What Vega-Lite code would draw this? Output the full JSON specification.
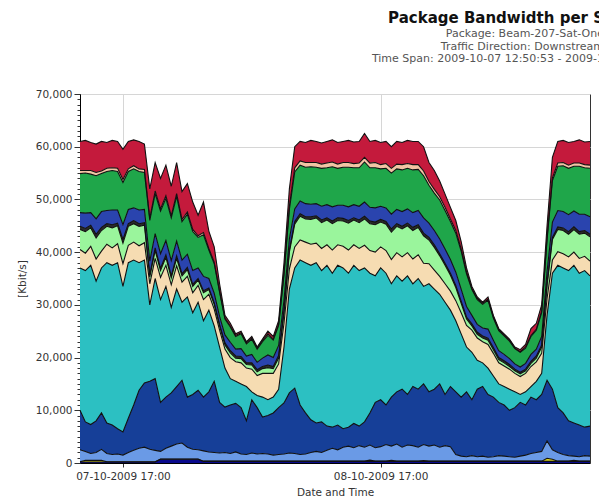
{
"$schema": "https://vega.github.io/schema/vega-lite/v6.json",
"width": 510, "height": 369,
"autosize": {"type": "none"},
"padding": {"left": 80, "top": 94, "right": 9, "bottom": 34},
"background": "white",
"config": {"view": {"stroke": "#333", "strokeWidth": 1}, "font": "DejaVu Sans"},
"title": {"text": "Package Bandwidth per S", "subtitle": ["Package: Beam-207-Sat-One", "Traffic Direction: Downstream", "Time Span: 2009-10-07 12:50:53 - 2009-1"], "anchor": "end", "frame": "group", "dx": 14, "offset": 25, "font": "DejaVu Sans", "fontSize": 15, "fontWeight": "bold", "color": "#111", "subtitleFont": "DejaVu Sans", "subtitleFontSize": 11, "subtitleColor": "#555", "subtitleLineHeight": 12.5, "subtitlePadding": 2},
"data": {"values": [
{"t":"2009-10-07T13:00","a":5500,"b":600,"c":7400,"d":2600,"e":600,"f":3800,"g":3500,"h":27000,"i":7500,"j":2250,"k":50,"l":200},
{"t":"2009-10-07T13:30","a":5700,"b":500,"c":7600,"d":2900,"e":600,"f":4100,"g":3300,"h":28700,"i":5600,"j":1700,"k":300,"l":200},
{"t":"2009-10-07T14:00","a":5300,"b":700,"c":7300,"d":2400,"e":500,"f":3500,"g":3600,"h":30200,"i":5500,"j":1300,"k":300,"l":200},
{"t":"2009-10-07T14:30","a":5400,"b":600,"c":8200,"d":2900,"e":700,"f":4000,"g":4200,"h":26500,"i":6000,"j":1500,"k":300,"l":200},
{"t":"2009-10-07T15:00","a":5600,"b":500,"c":7200,"d":3000,"e":600,"f":3900,"g":3200,"h":27500,"i":6900,"j":2100,"k":300,"l":200},
{"t":"2009-10-07T15:30","a":4900,"b":600,"c":7400,"d":2500,"e":500,"f":3400,"g":3500,"h":30400,"i":5800,"j":1550,"k":50,"l":200},
{"t":"2009-10-07T16:00","a":5200,"b":500,"c":7500,"d":2800,"e":600,"f":3800,"g":3300,"h":30300,"i":5600,"j":1350,"k":50,"l":200},
{"t":"2009-10-07T16:30","a":5100,"b":600,"c":7300,"d":2500,"e":500,"f":3400,"g":3600,"h":31500,"i":4800,"j":1450,"k":50,"l":200},
{"t":"2009-10-07T17:00","a":5700,"b":600,"c":8000,"d":2800,"e":700,"f":3900,"g":4300,"h":27600,"i":4400,"j":1250,"k":50,"l":200},
{"t":"2009-10-07T17:30","a":5200,"b":500,"c":7200,"d":2700,"e":500,"f":3600,"g":3300,"h":29500,"i":6500,"j":1750,"k":50,"l":200},
{"t":"2009-10-07T18:00","a":4900,"b":600,"c":7400,"d":2400,"e":600,"f":3500,"g":3400,"h":27500,"i":8600,"j":2150,"k":50,"l":200},
{"t":"2009-10-07T18:30","a":5200,"b":500,"c":7300,"d":2600,"e":500,"f":3700,"g":3200,"h":24200,"i":11000,"j":2550,"k":50,"l":200},
{"t":"2009-10-07T19:00","a":4800,"b":600,"c":7000,"d":2500,"e":500,"f":3300,"g":3300,"h":23300,"i":12200,"j":2750,"k":50,"l":200},
{"t":"2009-10-07T19:30","a":5600,"b":400,"c":7700,"d":2600,"e":400,"f":1300,"g":4000,"h":14500,"i":12900,"j":2350,"k":50,"l":200},
{"t":"2009-10-07T20:00","a":5400,"b":500,"c":7600,"d":2700,"e":500,"f":1500,"g":3800,"h":19000,"i":13600,"j":2150,"k":50,"l":200},
{"t":"2009-10-07T20:30","a":5800,"b":400,"c":8100,"d":2800,"e":400,"f":1300,"g":4200,"h":19500,"i":9300,"j":1450,"k":50,"l":700},
{"t":"2009-10-07T21:00","a":5800,"b":500,"c":8000,"d":2700,"e":500,"f":1500,"g":4000,"h":21000,"i":9700,"j":2050,"k":50,"l":700},
{"t":"2009-10-07T21:30","a":5600,"b":400,"c":8100,"d":2900,"e":400,"f":1300,"g":4300,"h":16200,"i":10100,"j":2450,"k":50,"l":700},
{"t":"2009-10-07T22:00","a":5900,"b":500,"c":8500,"d":2800,"e":500,"f":1400,"g":4400,"h":18500,"i":10900,"j":2850,"k":50,"l":700},
{"t":"2009-10-07T22:30","a":5300,"b":400,"c":7300,"d":2600,"e":400,"f":1200,"g":3800,"h":14800,"i":11900,"j":3050,"k":50,"l":700},
{"t":"2009-10-07T23:00","a":5400,"b":400,"c":7600,"d":2500,"e":400,"f":1300,"g":3900,"h":19000,"i":9500,"j":2250,"k":50,"l":700},
{"t":"2009-10-07T23:30","a":5200,"b":400,"c":7400,"d":2600,"e":400,"f":1200,"g":3800,"h":15500,"i":10400,"j":1850,"k":50,"l":700},
{"t":"2009-10-08T00:00","a":3900,"b":300,"c":5800,"d":2000,"e":300,"f":1000,"g":3200,"h":16700,"i":11300,"j":1750,"k":50,"l":700},
{"t":"2009-10-08T00:30","a":5800,"b":400,"c":7900,"d":2700,"e":400,"f":1300,"g":4000,"h":14500,"i":10200,"j":1950,"k":50,"l":300},
{"t":"2009-10-08T01:00","a":3300,"b":300,"c":5400,"d":1800,"e":300,"f":900,"g":3000,"h":15500,"i":11400,"j":1750,"k":50,"l":300},
{"t":"2009-10-08T01:30","a":2900,"b":300,"c":5600,"d":1800,"e":300,"f":900,"g":3200,"h":10500,"i":13500,"j":1650,"k":50,"l":300},
{"t":"2009-10-08T02:00","a":1400,"b":200,"c":4600,"d":1500,"e":300,"f":800,"g":3200,"h":10500,"i":9600,"j":1550,"k":50,"l":300},
{"t":"2009-10-08T02:30","a":500,"b":200,"c":3000,"d":1500,"e":400,"f":800,"g":3600,"h":7400,"i":8600,"j":1650,"k":50,"l":300},
{"t":"2009-10-08T03:00","a":500,"b":200,"c":2900,"d":1600,"e":400,"f":900,"g":4000,"h":5000,"i":9200,"j":1450,"k":50,"l":300},
{"t":"2009-10-08T03:30","a":300,"b":200,"c":2400,"d":1300,"e":400,"f":700,"g":3700,"h":4200,"i":9200,"j":1750,"k":50,"l":300},
{"t":"2009-10-08T04:00","a":300,"b":200,"c":2800,"d":1500,"e":400,"f":800,"g":4000,"h":4500,"i":8800,"j":1350,"k":50,"l":300},
{"t":"2009-10-08T04:30","a":200,"b":200,"c":2300,"d":1300,"e":300,"f":700,"g":3500,"h":6500,"i":6400,"j":1250,"k":50,"l":300},
{"t":"2009-10-08T05:00","a":300,"b":200,"c":2900,"d":1600,"e":400,"f":800,"g":4300,"h":1500,"i":10100,"j":1550,"k":50,"l":300},
{"t":"2009-10-08T05:30","a":200,"b":200,"c":2500,"d":1400,"e":400,"f":700,"g":3800,"h":2300,"i":8800,"j":1350,"k":50,"l":300},
{"t":"2009-10-08T06:00","a":300,"b":200,"c":3100,"d":1600,"e":400,"f":900,"g":4500,"h":3800,"i":6900,"j":1450,"k":50,"l":300},
{"t":"2009-10-08T06:30","a":500,"b":300,"c":3700,"d":1900,"e":500,"f":1100,"g":5000,"h":3000,"i":7300,"j":1350,"k":50,"l":300},
{"t":"2009-10-08T07:00","a":500,"b":200,"c":3300,"d":1700,"e":400,"f":900,"g":4500,"h":3000,"i":8000,"j":1150,"k":50,"l":300},
{"t":"2009-10-08T07:30","a":700,"b":200,"c":3800,"d":1900,"e":500,"f":1100,"g":4800,"h":3500,"i":8900,"j":1250,"k":50,"l":300},
{"t":"2009-10-08T08:00","a":1900,"b":400,"c":4800,"d":2000,"e":400,"f":2000,"g":4500,"h":10600,"i":9700,"j":1350,"k":50,"l":300},
{"t":"2009-10-08T08:30","a":3300,"b":600,"c":5600,"d":2100,"e":400,"f":3200,"g":3800,"h":19700,"i":11400,"j":1550,"k":50,"l":300},
{"t":"2009-10-08T09:00","a":4000,"b":800,"c":7000,"d":2400,"e":500,"f":4300,"g":4000,"h":22800,"i":12400,"j":1450,"k":50,"l":300},
{"t":"2009-10-08T09:30","a":3700,"b":800,"c":6800,"d":2400,"e":500,"f":4500,"g":3800,"h":27500,"i":9400,"j":1250,"k":50,"l":300},
{"t":"2009-10-08T10:00","a":3800,"b":900,"c":6900,"d":2500,"e":400,"f":4400,"g":3900,"h":28500,"i":7800,"j":1350,"k":50,"l":300},
{"t":"2009-10-08T10:30","a":4200,"b":800,"c":7100,"d":2400,"e":500,"f":4700,"g":4000,"h":29300,"i":6200,"j":1650,"k":50,"l":300},
{"t":"2009-10-08T11:00","a":4000,"b":900,"c":6900,"d":2300,"e":400,"f":4800,"g":3700,"h":30400,"i":5400,"j":1850,"k":50,"l":300},
{"t":"2009-10-08T11:30","a":4000,"b":800,"c":7200,"d":2600,"e":500,"f":4900,"g":4200,"h":28700,"i":5800,"j":1650,"k":50,"l":300},
{"t":"2009-10-08T12:00","a":4100,"b":900,"c":7000,"d":2500,"e":400,"f":4700,"g":3900,"h":30500,"i":4600,"j":2050,"k":50,"l":300},
{"t":"2009-10-08T12:30","a":4200,"b":900,"c":7600,"d":2700,"e":500,"f":5000,"g":4400,"h":29200,"i":4000,"j":2450,"k":50,"l":300},
{"t":"2009-10-08T13:00","a":4100,"b":800,"c":7000,"d":2400,"e":500,"f":4600,"g":3900,"h":30300,"i":4700,"j":2150,"k":50,"l":300},
{"t":"2009-10-08T13:30","a":4000,"b":900,"c":7200,"d":2500,"e":500,"f":4800,"g":4100,"h":30500,"i":3500,"j":2650,"k":50,"l":300},
{"t":"2009-10-08T14:00","a":4200,"b":900,"c":7500,"d":2600,"e":500,"f":5100,"g":4400,"h":29200,"i":3600,"j":2850,"k":50,"l":300},
{"t":"2009-10-08T14:30","a":4100,"b":800,"c":7000,"d":2500,"e":400,"f":4700,"g":3900,"h":30000,"i":4600,"j":2550,"k":50,"l":300},
{"t":"2009-10-08T15:00","a":4100,"b":900,"c":7300,"d":2600,"e":500,"f":4900,"g":4200,"h":29500,"i":3700,"j":2950,"k":50,"l":300},
{"t":"2009-10-08T15:30","a":4500,"b":900,"c":7600,"d":2700,"e":500,"f":5000,"g":4300,"h":29200,"i":4800,"j":2650,"k":50,"l":300},
{"t":"2009-10-08T16:00","a":4100,"b":900,"c":7500,"d":2600,"e":500,"f":5100,"g":4300,"h":26500,"i":6100,"j":2850,"k":250,"l":300},
{"t":"2009-10-08T16:30","a":4200,"b":1000,"c":7600,"d":2700,"e":500,"f":5200,"g":4500,"h":24000,"i":8600,"j":2550,"k":50,"l":300},
{"t":"2009-10-08T17:00","a":4200,"b":800,"c":7100,"d":2500,"e":500,"f":4700,"g":4000,"h":25000,"i":8900,"j":2750,"k":50,"l":300},
{"t":"2009-10-08T17:30","a":4200,"b":900,"c":7500,"d":2600,"e":500,"f":5000,"g":4300,"h":25000,"i":7500,"j":3150,"k":50,"l":300},
{"t":"2009-10-08T18:00","a":4100,"b":900,"c":7800,"d":2800,"e":600,"f":5200,"g":4600,"h":21500,"i":9300,"j":2700,"k":200,"l":300},
{"t":"2009-10-08T18:30","a":4300,"b":900,"c":7700,"d":2700,"e":500,"f":5000,"g":4400,"h":22000,"i":9900,"j":3250,"k":50,"l":300},
{"t":"2009-10-08T19:00","a":4200,"b":1000,"c":7900,"d":2800,"e":500,"f":5300,"g":4600,"h":20500,"i":11000,"j":2650,"k":50,"l":300},
{"t":"2009-10-08T19:30","a":4400,"b":900,"c":7700,"d":2700,"e":500,"f":5100,"g":4400,"h":22500,"i":9600,"j":3050,"k":50,"l":300},
{"t":"2009-10-08T20:00","a":4400,"b":1000,"c":8100,"d":2800,"e":600,"f":5400,"g":4700,"h":19500,"i":11200,"j":2950,"k":50,"l":300},
{"t":"2009-10-08T20:30","a":4400,"b":900,"c":7800,"d":2700,"e":500,"f":5200,"g":4500,"h":21000,"i":11000,"j":2650,"k":50,"l":300},
{"t":"2009-10-08T21:00","a":4600,"b":900,"c":8000,"d":2900,"e":500,"f":5200,"g":4400,"h":18500,"i":11500,"j":3050,"k":150,"l":300},
{"t":"2009-10-08T21:30","a":3600,"b":700,"c":7200,"d":2700,"e":500,"f":4500,"g":3800,"h":20500,"i":10300,"j":2850,"k":50,"l":300},
{"t":"2009-10-08T22:00","a":3600,"b":700,"c":7100,"d":2700,"e":500,"f":4300,"g":3600,"h":19000,"i":10600,"j":3050,"k":50,"l":300},
{"t":"2009-10-08T22:30","a":3000,"b":600,"c":7400,"d":2800,"e":400,"f":3900,"g":3400,"h":17000,"i":12000,"j":2650,"k":50,"l":300},
{"t":"2009-10-08T23:00","a":2500,"b":600,"c":7300,"d":2700,"e":400,"f":3500,"g":3500,"h":17500,"i":9700,"j":2950,"k":50,"l":300},
{"t":"2009-10-08T23:30","a":2200,"b":500,"c":7200,"d":2600,"e":400,"f":3000,"g":3600,"h":14500,"i":11400,"j":2750,"k":50,"l":300},
{"t":"2009-10-09T00:00","a":1900,"b":500,"c":7400,"d":2500,"e":400,"f":2500,"g":3800,"h":13500,"i":11900,"j":1250,"k":50,"l":300},
{"t":"2009-10-09T00:30","a":1400,"b":400,"c":7200,"d":2300,"e":400,"f":1800,"g":4000,"h":12000,"i":11200,"j":950,"k":50,"l":300},
{"t":"2009-10-09T01:00","a":800,"b":300,"c":6200,"d":2000,"e":400,"f":1200,"g":4100,"h":8500,"i":12300,"j":850,"k":50,"l":300},
{"t":"2009-10-09T01:30","a":400,"b":200,"c":4900,"d":1600,"e":400,"f":800,"g":4200,"h":9000,"i":10600,"j":1050,"k":50,"l":300},
{"t":"2009-10-09T02:00","a":300,"b":200,"c":4700,"d":1500,"e":400,"f":700,"g":4200,"h":5500,"i":12800,"j":850,"k":50,"l":300},
{"t":"2009-10-09T02:30","a":200,"b":200,"c":4500,"d":1500,"e":400,"f":700,"g":4000,"h":4500,"i":13200,"j":950,"k":50,"l":300},
{"t":"2009-10-09T03:00","a":400,"b":200,"c":5500,"d":1700,"e":400,"f":800,"g":4500,"h":5000,"i":11900,"j":750,"k":50,"l":300},
{"t":"2009-10-09T03:30","a":300,"b":200,"c":4200,"d":1400,"e":400,"f":700,"g":4300,"h":4000,"i":11300,"j":850,"k":50,"l":300},
{"t":"2009-10-09T04:00","a":200,"b":200,"c":3800,"d":1300,"e":400,"f":600,"g":4000,"h":3500,"i":10100,"j":1050,"k":50,"l":300},
{"t":"2009-10-09T04:30","a":200,"b":200,"c":3500,"d":1200,"e":400,"f":600,"g":3900,"h":3500,"i":9700,"j":950,"k":50,"l":300},
{"t":"2009-10-09T05:00","a":200,"b":200,"c":3300,"d":1100,"e":400,"f":500,"g":3800,"h":4000,"i":8800,"j":850,"k":50,"l":300},
{"t":"2009-10-09T05:30","a":200,"b":100,"c":2900,"d":1000,"e":300,"f":500,"g":3500,"h":3000,"i":9400,"j":750,"k":50,"l":300},
{"t":"2009-10-09T06:00","a":400,"b":100,"c":2800,"d":1000,"e":300,"f":500,"g":3400,"h":1500,"i":10200,"j":950,"k":50,"l":300},
{"t":"2009-10-09T06:30","a":500,"b":200,"c":2900,"d":1100,"e":300,"f":500,"g":3500,"h":2500,"i":9500,"j":1150,"k":50,"l":300},
{"t":"2009-10-09T07:00","a":1300,"b":200,"c":3400,"d":1300,"e":400,"f":600,"g":3800,"h":2000,"i":10700,"j":1450,"k":50,"l":300},
{"t":"2009-10-09T07:30","a":1100,"b":200,"c":3600,"d":1300,"e":400,"f":700,"g":3700,"h":3500,"i":10000,"j":1650,"k":50,"l":300},
{"t":"2009-10-09T08:00","a":1200,"b":300,"c":4500,"d":1600,"e":400,"f":1200,"g":3800,"h":4000,"i":10800,"j":1850,"k":50,"l":300},
{"t":"2009-10-09T08:30","a":2300,"b":400,"c":6000,"d":2200,"e":400,"f":2500,"g":3200,"h":12300,"i":11500,"j":3300,"k":600,"l":300},
{"t":"2009-10-09T09:00","a":3900,"b":500,"c":7900,"d":2900,"e":400,"f":3900,"g":2500,"h":22000,"i":11500,"j":1800,"k":400,"l":300},
{"t":"2009-10-09T09:30","a":4100,"b":600,"c":8400,"d":3100,"e":500,"f":4200,"g":2600,"h":27000,"i":8500,"j":1650,"k":50,"l":300},
{"t":"2009-10-09T10:00","a":4200,"b":600,"c":8700,"d":3100,"e":500,"f":4400,"g":2700,"h":27500,"i":7900,"j":1250,"k":50,"l":300},
{"t":"2009-10-09T10:30","a":4300,"b":600,"c":8800,"d":3200,"e":500,"f":4300,"g":2600,"h":28500,"i":6600,"j":1050,"k":50,"l":300},
{"t":"2009-10-09T11:00","a":4100,"b":600,"c":8500,"d":3000,"e":500,"f":4300,"g":2500,"h":29900,"i":6300,"j":800,"k":200,"l":300},
{"t":"2009-10-09T11:30","a":4400,"b":600,"c":9100,"d":3300,"e":500,"f":4600,"g":2800,"h":28800,"i":6000,"j":850,"k":50,"l":300},
{"t":"2009-10-09T12:00","a":4300,"b":600,"c":8800,"d":3100,"e":500,"f":4400,"g":2700,"h":29700,"i":5400,"j":1050,"k":50,"l":300},
{"t":"2009-10-09T12:30","a":4500,"b":600,"c":9200,"d":3300,"e":500,"f":4600,"g":2800,"h":28500,"i":5700,"j":950,"k":50,"l":300}
]},
"transform": [{"fold": ["a","b","c","d","e","f","g","h","i","j","k","l"], "as": ["key","val"]}],
"encoding": {
  "x": {"field": "t", "type": "temporal",
    "scale": {"domain": [{"year":2009,"month":10,"date":7,"hours":13},{"year":2009,"month":10,"date":9,"hours":12,"minutes":30}]},
    "axis": {"values": [{"year":2009,"month":10,"date":7,"hours":17},{"year":2009,"month":10,"date":8,"hours":17}], "format": "%d-%m-%Y %H:%M", "title": "Date and Time", "grid": true, "gridColor": "#d6d6d6", "tickSize": 4, "tickColor": "#333", "domainColor": "#000", "labelPadding": 4, "labelFont": "DejaVu Sans", "labelFontSize": 10.5, "labelColor": "#333", "titleFont": "DejaVu Sans", "titleFontSize": 10.5, "titleFontWeight": "normal", "titleColor": "#333", "titlePadding": 6}},
  "y": {"field": "val", "type": "quantitative", "stack": "zero",
    "scale": {"domain": [0, 70000], "nice": false},
    "axis": {"values": [0,1000,2000,3000,4000,5000,6000,7000,8000,9000,10000,11000,12000,13000,14000,15000,16000,17000,18000,19000,20000,21000,22000,23000,24000,25000,26000,27000,28000,29000,30000,31000,32000,33000,34000,35000,36000,37000,38000,39000,40000,41000,42000,43000,44000,45000,46000,47000,48000,49000,50000,51000,52000,53000,54000,55000,56000,57000,58000,59000,60000,61000,62000,63000,64000,65000,66000,67000,68000,69000,70000],
      "format": ",d",
      "labelExpr": "datum.value % 10000 === 0 ? datum.label : ''",
      "tickSize": {"condition": {"test": "datum.value % 10000 === 0", "value": 6}, "value": 3},
      "gridOpacity": {"condition": {"test": "datum.value % 10000 === 0", "value": 1}, "value": 0},
      "grid": true, "gridColor": "#d6d6d6", "tickColor": "#333", "domainColor": "#000",
      "labelPadding": 2, "labelFont": "DejaVu Sans", "labelFontSize": 10.5, "labelColor": "#333",
      "title": "[Kbit/s]", "titleFont": "DejaVu Sans", "titleFontSize": 10.5, "titleFontWeight": "normal", "titleColor": "#333", "titlePadding": 8}}
},
"layer": [
  {"mark": {"type": "area", "interpolate": "linear"},
   "encoding": {"color": {"field": "key", "type": "nominal", "legend": null,
     "scale": {"domain": ["a","b","c","d","e","f","g","h","i","j","k","l"],
               "range": ["#c41a3c","#f2c4a4","#1fa64a","#2a44ae","#2b2b2b","#9af59c","#f6dcb2","#2cc0c2","#163f98","#6a9ae6","#d9d21e","#0a0a8c"]}}}},
  {"mark": {"type": "line", "color": "#111", "strokeWidth": 1.1, "interpolate": "linear"},
   "encoding": {"detail": {"field": "key", "type": "nominal"}}}
]
}
